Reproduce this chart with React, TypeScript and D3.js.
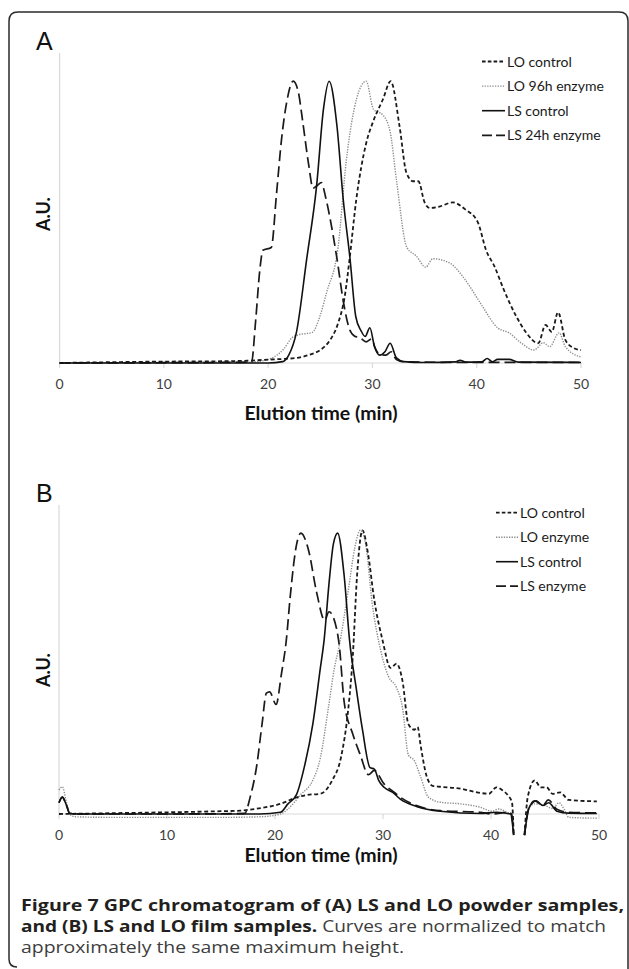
import React from "react";
import * as d3 from "d3";

type Pt = [number, number | null];

const xTicks = [0, 10, 20, 30, 40, 50];
const legendA = ["LO control", "LO 96h enzyme", "LS control", "LS 24h enzyme"];
const legendB = ["LO control", "LO enzyme", "LS control", "LS enzyme"];

// Panel A (powder samples)
const aLoControl: Pt[] = [
  [0, 0], [5, 0.003], [10, 0.005], [15, 0.006], [18, 0.008], [20, 0.012], [22.7, 0.018], [24, 0.03],
  [25, 0.046], [26, 0.085], [26.6, 0.13], [27.4, 0.25], [27.8, 0.367], [28.45, 0.58], [29.4, 0.78],
  [30.1, 0.86], [31.0, 0.935], [31.75, 1.0], [32.6, 0.84], [33.25, 0.676], [33.9, 0.645], [34.4, 0.645],
  [35.0, 0.57], [35.5, 0.55], [36.5, 0.556], [37.7, 0.57], [38.9, 0.545], [40.1, 0.5], [40.9, 0.4],
  [41.7, 0.343], [42.6, 0.26], [43.8, 0.165], [44.7, 0.11], [45.9, 0.07], [46.6, 0.135], [47.2, 0.11],
  [47.8, 0.18], [48.5, 0.082], [49.3, 0.053], [50, 0.046],
];
const aLoEnzyme: Pt[] = [
  [0, 0], [10, 0.002], [18, 0.003], [19.5, 0.008], [20.5, 0.02], [21.5, 0.05], [22.3, 0.09], [22.9, 0.1],
  [24.2, 0.108], [25.0, 0.17], [25.6, 0.25], [26.7, 0.41], [27.5, 0.72], [28.5, 0.94], [29.4, 1.0],
  [30.1, 0.9], [31.0, 0.88], [31.7, 0.82], [32.3, 0.65], [33.3, 0.41], [34.2, 0.38], [35.1, 0.34],
  [35.8, 0.37], [37.4, 0.355], [38.9, 0.295], [40.4, 0.21], [42.0, 0.125], [43.1, 0.107], [44.3, 0.07],
  [45.5, 0.046], [46.4, 0.072], [47.0, 0.058], [47.9, 0.107], [48.5, 0.058], [50, 0.021],
];
const aLsControl: Pt[] = [
  [0, 0], [10, 0], [20, 0], [21.4, 0.005], [22.0, 0.03], [22.7, 0.107], [23.7, 0.37], [24.65, 0.63],
  [25.3, 0.9], [25.85, 1.0], [26.6, 0.84], [27.2, 0.58], [27.85, 0.37], [28.4, 0.165], [28.9, 0.115],
  [29.3, 0.094], [29.75, 0.125], [30.2, 0.058], [30.7, 0.028], [31.2, 0.04], [31.7, 0.07], [32.3, 0.018],
  [33, 0.005], [35, 0.002], [38, 0.004], [38.4, 0.01], [39, 0.003], [40.5, 0.004], [41.0, 0.016],
  [41.5, 0.004], [42, 0.013], [43.1, 0.013], [44, 0.003], [50, 0.002],
];
const aLsEnzyme: Pt[] = [
  [0, 0], [10, 0.001], [18.4, 0.003], [18.8, 0.15], [19.2, 0.33], [19.5, 0.4], [20.3, 0.41], [20.8, 0.6],
  [21.3, 0.8], [21.8, 0.93], [22.4, 1.0], [22.9, 0.96], [23.3, 0.86], [23.9, 0.7], [24.3, 0.62],
  [24.7, 0.63], [25.1, 0.64], [25.5, 0.59], [25.9, 0.52], [26.6, 0.37], [27.2, 0.22], [27.8, 0.12],
  [28.3, 0.095], [28.8, 0.09], [29.4, 0.075], [29.9, 0.085], [30.3, 0.05], [30.7, 0.03], [31.3, 0.028],
  [31.8, 0.04], [32.3, 0.012], [33, 0.004], [40, 0.002], [50, 0.002],
];

// Panel B (film samples)
const bLoControl: Pt[] = [
  [0, 0], [5, 0.003], [10, 0.006], [15, 0.01], [16.8, 0.012], [18.5, 0.02], [20.5, 0.036], [22.0, 0.059],
  [23, 0.068], [24.2, 0.072], [25.3, 0.12], [26.1, 0.2], [26.8, 0.38], [27.2, 0.56], [27.6, 0.85],
  [28.1, 1.01], [28.6, 0.93], [29.2, 0.76], [29.95, 0.62], [30.7, 0.52], [31.25, 0.535], [31.8, 0.475],
  [32.35, 0.32], [32.9, 0.3], [33.2, 0.31], [33.5, 0.24], [34.0, 0.14], [34.6, 0.1], [35.3, 0.097],
  [37.2, 0.09], [38.7, 0.077], [39.8, 0.072], [40.5, 0.095], [41.1, 0.083], [41.6, 0.065], [41.95, 0.04],
  [42.1, -0.075], [42.6, null], [43.1, -0.075], [43.4, 0.06], [44.05, 0.12], [44.6, 0.095], [45.15, 0.095],
  [45.7, 0.072], [46.4, 0.077], [47.2, 0.05], [49.8, 0.045],
];
const bLoEnzyme: Pt[] = [
  [0, 0.085], [0.3, 0.097], [0.7, 0.04], [1.0, 0], [1.5, -0.01], [5, -0.012], [10, -0.012], [15, -0.012],
  [18.6, -0.01], [20.5, 0], [21.2, 0.018], [22.4, 0.07], [23.5, 0.12], [24.2, 0.2], [24.95, 0.38],
  [25.5, 0.52], [25.9, 0.59], [26.8, 0.8], [27.4, 0.95], [27.9, 1.01], [28.4, 0.96], [29.0, 0.75],
  [29.8, 0.58], [30.5, 0.49], [31.25, 0.45], [31.8, 0.38], [32.35, 0.21], [32.9, 0.19], [33.5, 0.13],
  [34.2, 0.06], [35.3, 0.042], [37.2, 0.036], [39.0, 0.024], [40.1, 0.01], [40.7, 0.018], [41.6, 0.004],
  [41.95, 0], [42.1, -0.075], [42.6, null], [43.1, -0.075], [43.5, 0.02], [44.05, 0.036], [45.0, 0.03],
  [45.7, 0.02], [46.3, 0.04], [46.8, 0.015], [47.2, -0.012], [49.8, -0.015],
];
const bLsControl: Pt[] = [
  [0, 0.04], [0.3, 0.06], [0.7, 0.03], [1.0, 0.002], [2, 0], [10, 0], [18.6, 0], [20.5, 0.006],
  [21.2, 0.036], [22.0, 0.07], [22.7, 0.165], [23.5, 0.32], [24.2, 0.52], [24.55, 0.62], [25.0, 0.82],
  [25.4, 0.96], [25.8, 1.0], [26.4, 0.85], [26.9, 0.62], [27.55, 0.44], [28.1, 0.3], [28.8, 0.165],
  [29.2, 0.16], [29.6, 0.12], [30.1, 0.095], [30.9, 0.077], [31.6, 0.053], [33.1, 0.027], [35.3, 0.01],
  [39.0, 0.002], [40.5, 0.006], [41.8, 0], [42.1, -0.075], [42.6, null], [43.1, -0.075], [43.5, 0.02],
  [43.85, 0.04], [44.2, 0.047], [44.8, 0.03], [45.35, 0.04], [46.1, 0.01], [47.2, 0.003], [49.8, 0.002],
];
const bLsEnzyme: Pt[] = [
  [0, 0.04], [0.3, 0.06], [0.7, 0.03], [1.0, 0.002], [2, 0], [10, 0], [17.2, 0.002], [17.7, 0.06],
  [18.3, 0.17], [18.8, 0.32], [19.2, 0.43], [19.5, 0.435], [20.1, 0.39], [20.6, 0.5], [21.05, 0.62],
  [21.4, 0.77], [22.0, 0.96], [22.4, 1.0], [23.1, 0.94], [23.85, 0.79], [24.6, 0.69], [25.0, 0.72],
  [25.7, 0.66], [25.95, 0.6], [26.4, 0.4], [27.2, 0.285], [27.9, 0.21], [28.65, 0.14], [29.2, 0.155],
  [30.1, 0.107], [31.05, 0.077], [31.6, 0.06], [33.1, 0.03], [35.3, 0.012], [39.0, 0.006], [40.1, 0],
  [41.6, 0.006], [41.9, 0], [42.1, -0.075], [42.6, null], [43.1, -0.075], [43.5, 0.02], [44.05, 0.047],
  [44.8, 0.03], [45.3, 0.05], [46.1, 0.017], [47.2, 0.006], [49.8, 0.004],
];

const seriesA = [aLoControl, aLoEnzyme, aLsControl, aLsEnzyme];
const seriesB = [bLoControl, bLoEnzyme, bLsControl, bLsEnzyme];

const lineStyles = [
  { stroke: "#1a1a1a", width: 1.8, dash: "4,2.6" },
  { stroke: "#8c8c8c", width: 1.4, dash: "1.3,1.3" },
  { stroke: "#111111", width: 1.6, dash: "" },
  { stroke: "#1a1a1a", width: 1.7, dash: "11,5" },
];
const legendDash = ["3.6,2.2", "1.3,1.3", "", "10,4"];
const drawOrder = [1, 0, 3, 2];

const chartFont = "Lato, 'Open Sans', sans-serif";

type PanelProps = {
  series: Pt[][];
  legend: string[];
  letter: string;
  x0: number; x1: number; yBase: number; yTop: number;
  letterY: number; auY: number; tickY: number; titleX: number; titleY: number;
  legLineX: number; legTextX: number; legY0: number; legDy: number;
};

function Panel(p: PanelProps) {
  const x = d3.scaleLinear().domain([0, 50]).range([p.x0, p.x1]);
  const y = d3.scaleLinear().domain([0, 1.1]).range([p.yBase, p.yTop]);
  const line = d3
    .line<Pt>()
    .defined((d) => d[1] !== null)
    .x((d) => x(d[0]))
    .y((d) => y(d[1] as number))
    .curve(d3.curveMonotoneX);
  return (
    <g>
      <text x={36} y={p.letterY} fontFamily="'Liberation Sans', Arial, sans-serif" fontSize={25} fill="#111">
        {p.letter}
      </text>
      <line x1={x(0)} x2={x(0)} y1={y(1.1)} y2={y(0)} stroke="#d9d9d9" strokeWidth={1.2} />
      <line x1={x(0)} x2={x(50)} y1={y(0)} y2={y(0)} stroke="#d9d9d9" strokeWidth={1.2} />
      {xTicks.map((t) => (
        <g key={t}>
          <line x1={x(t)} x2={x(t)} y1={y(0)} y2={y(0) + 5} stroke="#d9d9d9" strokeWidth={1.2} />
          <text x={x(t)} y={p.tickY} textAnchor="middle" fontFamily={chartFont} fontSize={14} fill="#404040">
            {t}
          </text>
        </g>
      ))}
      {drawOrder.map((i) => (
        <path
          key={i}
          d={line(p.series[i]) || ""}
          fill="none"
          stroke={lineStyles[i].stroke}
          strokeWidth={lineStyles[i].width}
          strokeDasharray={lineStyles[i].dash || undefined}
          strokeLinejoin="round"
        />
      ))}
      <text
        transform={`translate(50,${p.auY}) rotate(-90)`}
        textAnchor="middle"
        fontFamily={chartFont}
        fontWeight="bold"
        fontSize={18}
        fill="#111"
      >
        A.U.
      </text>
      <text x={p.titleX} y={p.titleY} textAnchor="middle" fontFamily={chartFont} fontWeight="bold" fontSize={19.5} fill="#111">
        Elution time (min)
      </text>
      {p.legend.map((name, i) => {
        const ly = p.legY0 + i * p.legDy;
        return (
          <g key={name}>
            <line
              x1={p.legLineX}
              x2={p.legTextX - 2}
              y1={ly}
              y2={ly}
              stroke={lineStyles[i].stroke}
              strokeWidth={lineStyles[i].width}
              strokeDasharray={legendDash[i] || undefined}
            />
            <text x={p.legTextX} y={ly + 5} fontFamily={chartFont} fontSize={14} fill="#1a1a1a">
              {name}
            </text>
          </g>
        );
      })}
    </g>
  );
}

export default function App() {
  const capFont = "'Open Sans', 'Noto Sans', sans-serif";
  return (
    <div style={{ position: "absolute", left: 0, top: 0 }}>
      <svg width={629} height={969} style={{ display: "block", background: "#fff" }}>
        <path
          d="M 17 967 Q 9 967 9 959 L 9 21 Q 9 12 18 12 L 619 12 Q 628 12 628 21 L 628 969"
          fill="none"
          stroke="#2b2b2b"
          strokeWidth={1.5}
        />
        <Panel
          series={seriesA}
          legend={legendA}
          letter="A"
          x0={59.6} x1={581} yBase={363} yTop={53}
          letterY={50} auY={214} tickY={389} titleX={321} titleY={420}
          legLineX={482} legTextX={507} legY0={61.5} legDy={24.6}
        />
        <Panel
          series={seriesB}
          legend={legendB}
          letter="B"
          x0={59} x1={599} yBase={814} yTop={505}
          letterY={502} auY={670} tickY={839.5} titleX={321} titleY={862}
          legLineX={496} legTextX={520} legY0={512.7} legDy={24.5}
        />
        <text x={21} y={911} fontFamily={capFont} fontSize={16} fill="#231f20" textLength={603} lengthAdjust="spacingAndGlyphs">
          <tspan fontWeight="bold">Figure 7 GPC chromatogram of (A) LS and LO powder samples,</tspan>
        </text>
        <text x={21} y={932} fontFamily={capFont} fontSize={16} fill="#231f20" textLength={585} lengthAdjust="spacingAndGlyphs">
          <tspan fontWeight="bold">and (B) LS and LO film samples.</tspan>
          <tspan fill="#3d3d3d"> Curves are normalized to match</tspan>
        </text>
        <text x={21} y={953} fontFamily={capFont} fontSize={16} fill="#3d3d3d" textLength={383} lengthAdjust="spacingAndGlyphs">
          approximately the same maximum height.
        </text>
      </svg>
    </div>
  );
}
